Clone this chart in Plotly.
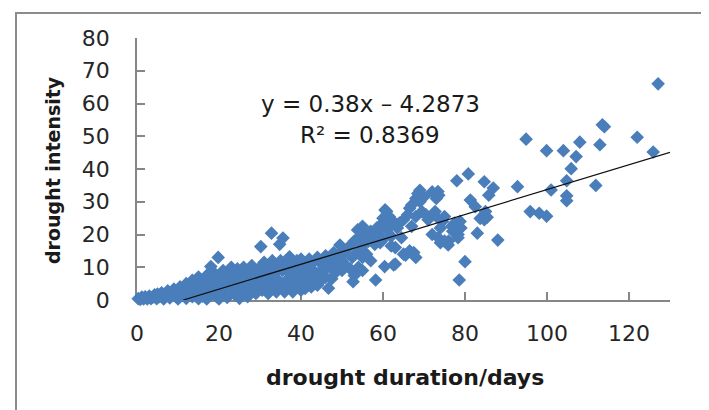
import plotly.graph_objects as go

# ---- data ----
duration = [
    0.3, 0.8, 1.2, 1.6, 2.0, 2.5, 3.0, 3.4, 3.9, 4.3, 4.8, 5.0,
    5.5, 6.0, 6.5, 7.0, 7.5, 8.0, 8.5, 9.0, 9.5, 10.0, 10.0,
    10.5, 11.0, 11.5, 12.0, 12.0, 12.5, 13.0, 13.5, 13.5, 14.0, 14.5, 15.0, 15.0, 15.0,
    15.5, 16.0, 16.0, 16.5, 17.0, 17.0, 17.5, 18.0, 18.0, 18.5, 19.0, 19.0, 19.5, 19.8, 20.0, 20.0,
    20.5, 21.0, 21.0, 21.5, 22.0, 22.0, 22.5, 23.0, 23.0, 23.5, 24.0, 24.0, 24.5, 25.0, 25.0, 25.0,
    25.5, 26.0, 26.0, 26.5, 27.0, 27.0, 27.5, 28.0, 28.0, 28.5, 29.0, 29.0, 29.5, 30.0, 30.0, 30.2,
    30.5, 31.0, 31.0, 31.5, 32.0, 32.0, 32.5, 33.0, 33.0, 32.8, 33.5, 34.0, 34.0, 34.5, 34.8, 35.0, 35.0, 35.6, 33.4,
    35.5, 36.0, 36.0, 36.5, 37.0, 37.0, 37.2, 37.5, 38.0, 38.0, 38.5, 39.0, 39.0, 39.5, 40.0, 40.0, 40.0,
    40.5, 41.0, 41.0, 41.5, 42.0, 42.0, 42.5, 43.0, 43.0, 43.5, 44.0, 44.0, 44.5, 45.0, 45.0, 45.5,
    45.5, 46.0, 46.0, 46.7, 47.0, 47.0, 47.5, 48.0, 48.0, 48.5, 49.0, 49.0, 49.5, 50.0, 50.0, 50.0,
    50.7, 51.0, 51.5, 52.7, 52.0, 52.5, 53.0, 53.0, 53.8, 54.0, 54.0, 54.4, 55.0, 55.0, 55.0, 55.0,
    55.5, 56.0, 56.5, 57.0, 57.0, 57.5, 58.2, 58.0, 58.5, 59.0, 59.3, 59.5, 60.0, 60.0, 60.4,
    60.5, 61.0, 61.5, 62.0, 62.0, 62.5, 62.6, 63.0, 63.0, 63.5, 64.0, 64.5, 65.0, 65.0, 60.9, 61.5,
    65.5, 66.0, 66.5, 66.5, 67.0, 67.0, 67.5, 68.0, 68.0, 68.0, 68.5, 69.0, 69.0, 69.5, 70.0,
    70.5, 71.0, 72.0, 72.7, 73.0, 73.0, 73.4, 73.6, 73.5, 74.0, 74.0, 74.5, 75.0, 75.0, 75.9, 72.0, 76.0, 77.0,
    76.8, 77.5, 78.0, 78.3, 78.3, 78.8, 78.6, 79.0, 80.0, 80.8,
    81.3, 82.5, 83.0, 83.7, 85.0, 84.7, 85.8, 86.9, 85.4, 84.7, 88.0,
    92.8, 94.9, 95.9, 98.1, 99.9, 99.9, 101.0, 104.0, 104.8, 104.8, 104.8, 105.9, 107.1, 108.0,
    111.9, 112.9, 114.0, 113.5, 122.0, 125.9, 127.1,
]
intensity = [
    0.4, 0.2, 0.9, 0.3, 1.0, 0.3, 1.2, 0.4, 0.9, 1.6, 0.4, 1.8,
    1.0, 2.2, 0.3, 1.5, 2.8, 0.6, 2.0, 3.3, 1.2, 0.3, 2.5,
    4.0, 1.5, 3.2, 5.0, 0.5, 2.4, 4.2, 1.0, 6.0, 3.0, 5.0, 0.4, 2.0, 7.0,
    4.0, 6.0, 1.2, 3.0, 7.5, 0.3, 5.0, 2.2, 10.2, 6.5, 3.8, 8.0, 1.0, 13.0, 5.5, 0.3,
    7.5, 2.5, 9.0, 4.5, 6.5, 0.8, 8.5, 3.5, 10.0, 5.5, 1.5, 7.5, 9.5, 4.0, 0.5, 6.0,
    8.5, 2.5, 10.0, 5.0, 7.0, 1.0, 9.0, 3.5, 10.5, 6.0, 8.0, 2.0, 4.5, 10.0, 6.5, 16.3,
    3.0, 8.0, 11.5, 5.0, 2.0, 9.5, 6.5, 12.0, 4.0, 20.4, 8.0, 10.5, 2.5, 6.0, 17.0, 12.0, 4.5, 18.9, 11.2,
    9.0, 2.5, 11.0, 6.0, 4.0, 9.5, 13.2, 8.0, 10.5, 2.5, 6.0, 12.0, 4.0, 9.0, 7.0, 3.0, 12.5,
    5.0, 10.0, 3.5, 8.0, 12.5, 5.5, 4.0, 9.0, 11.5, 6.5, 13.0, 4.5, 8.5, 11.0, 6.0, 12.5,
    9.0, 7.0, 13.5, 3.6, 10.0, 12.0, 6.5, 11.0, 14.5, 8.5, 13.0, 10.0, 16.8, 9.0, 15.0, 12.0,
    14.7, 10.5, 16.0, 5.6, 9.5, 13.0, 18.0, 7.5, 21.4, 15.0, 10.0, 19.5, 22.5, 9.0, 13.0, 16.5,
    20.0, 14.0, 18.0, 21.0, 12.0, 19.5, 6.1, 17.0, 22.0, 20.0, 17.5, 23.0, 18.5, 25.0, 10.2,
    27.5, 21.5, 23.5, 16.5, 19.5, 24.0, 10.7, 11.0, 16.0, 22.0, 23.5, 19.0, 14.0, 24.5, 27.0, 25.5,
    13.7, 26.0, 28.0, 15.0, 29.0, 22.5, 14.5, 31.0, 13.0, 25.5, 32.5, 33.5, 30.0, 27.0, 31.5,
    26.0, 24.5, 33.0, 27.0, 25.5, 31.0, 33.1, 32.0, 19.0, 17.5, 22.0, 24.0, 18.0, 25.5, 16.8, 20.0, 18.0, 21.0,
    22.5, 23.5, 36.4, 20.0, 19.0, 24.0, 6.1, 22.0, 11.7, 38.5,
    30.5, 28.5, 20.4, 24.9, 27.0, 36.1, 32.0, 34.2, 25.3, 24.5, 18.3,
    34.6, 49.1, 27.0, 26.5, 25.6, 45.6, 33.6, 45.6, 36.4, 31.8, 30.3, 40.1, 43.8, 48.2,
    35.0, 47.4, 52.9, 53.5, 49.7, 45.2, 66.0,
]

slope = 0.38
intercept = -4.2873
r_squared = 0.8369

x_ticks = [0, 20, 40, 60, 80, 100, 120]
y_ticks = [0, 10, 20, 30, 40, 50, 60, 70, 80]
x_title = "drought duration/days"
y_title = "drought intensity"

# ---- figure ----
OFF = 8  # default page body margin
W, H = 709 - OFF, 410 - OFF
ML, MT = 137 - OFF, 38 - OFF
MR = W - (670 - OFF)
MB = H - (300 - OFF)
pw, ph = W - ML - MR, H - MT - MB

def px_to_paper(px, py):
    # px, py are window coordinates in the reference picture
    return (px - OFF - ML) / pw, (H - MB - (py - OFF)) / ph

fig = go.Figure()

fig.add_trace(go.Scatter(
    x=duration, y=intensity, mode="markers",
    marker=dict(symbol="diamond", size=10.5, color="#4a7ebb", line=dict(width=0)),
    cliponaxis=False, showlegend=False, hoverinfo="x+y",
))

x_start = -intercept / slope
x_end = 130
fig.add_trace(go.Scatter(
    x=[x_start, x_end], y=[slope * x_start + intercept, slope * x_end + intercept],
    mode="lines", line=dict(color="#111111", width=1.3),
    showlegend=False, hoverinfo="skip",
))

tick_font = dict(family="DejaVu Sans", size=22, color="#262626")
axis_common = dict(
    showline=True, linecolor="#868686", linewidth=1.5,
    ticks="inside", ticklen=8, tickcolor="#868686", tickwidth=1.5,
    showgrid=False, zeroline=False, tickfont=tick_font, layer="below traces",
)
fig.update_xaxes(range=[0, 130], tickvals=x_ticks, ticklabelstandoff=13, **axis_common)
fig.update_yaxes(range=[0, 80], tickvals=y_ticks, ticklabelstandoff=21, **axis_common)

ann = []
xp, yp = px_to_paper(405, 377)
ann.append(dict(text=f"<b>{x_title}</b>", x=xp, y=yp, xref="paper", yref="paper",
                showarrow=False, font=dict(family="DejaVu Sans", size=22, color="#1a1a1a"),
                xanchor="center", yanchor="middle"))
xp, yp = px_to_paper(53, 170)
ann.append(dict(text=f"<b>{y_title}</b>", x=xp, y=yp, xref="paper", yref="paper",
                showarrow=False, textangle=-90,
                font=dict(family="DejaVu Sans", size=19, color="#1a1a1a"),
                xanchor="center", yanchor="middle"))
eq_font = dict(family="DejaVu Sans", size=23, color="#1a1a1a")
xp, yp = px_to_paper(370, 104)
ann.append(dict(text=f"y = {slope:.2f}x – {abs(intercept):.4f}", x=xp, y=yp,
                xref="paper", yref="paper", showarrow=False, font=eq_font,
                xanchor="center", yanchor="middle"))
xp, yp = px_to_paper(370, 135)
ann.append(dict(text=f"R² = {r_squared:.4f}", x=xp, y=yp,
                xref="paper", yref="paper", showarrow=False, font=eq_font,
                xanchor="center", yanchor="middle"))

bx0, by1 = px_to_paper(16, 13)
bx1, by0 = px_to_paper(760, 460)
fig.add_shape(type="rect", xref="paper", yref="paper", x0=bx0, y0=by0, x1=bx1, y1=by1,
              line=dict(color="#8c8c8c", width=2), fillcolor="rgba(0,0,0,0)", layer="below")

fig.update_layout(
    width=W, height=H, margin=dict(l=ML, r=MR, t=MT, b=MB, autoexpand=False),
    paper_bgcolor="white", plot_bgcolor="white", annotations=ann,
    font=dict(family="DejaVu Sans"),
)

fig.write_html("out.html")
